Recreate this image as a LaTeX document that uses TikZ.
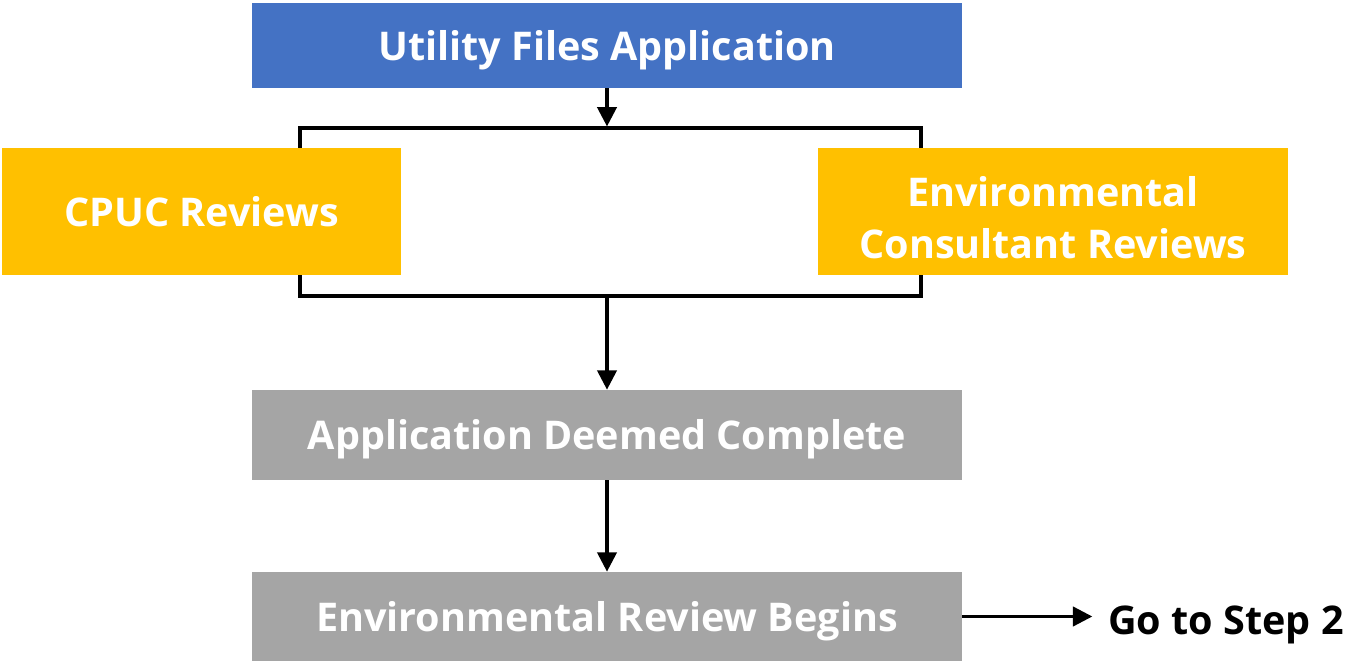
\documentclass[tikz,border=0pt]{standalone}
\usepackage{fontspec}
\setmainfont{Open Sans}
\usetikzlibrary{arrows.meta}
\definecolor{stepblue}{HTML}{4472C4}
\definecolor{reviewgold}{HTML}{FFC000}
\definecolor{stagegray}{HTML}{A5A5A5}
\tikzset{
	box/.style={rectangle, inner sep=0pt, text=white, font=\fontsize{22.5}{29.5}\selectfont\bfseries, align=center},
	oneline/.style={text height=20pt, text depth=3pt},
	link/.style={line width=1.8pt, -{Triangle[length=11pt, width=11pt]}}
}
\begin{document}
\begin{tikzpicture}[x=0.02cm, y=-0.02cm]
		
		\useasboundingbox (0,0) rectangle (1359,661);
		\node[draw, line width=1.8pt, minimum width=12.42cm, minimum height=3.36cm] (rev) at (610.5,212) {};
		\node[box, oneline, fill=stepblue, minimum width=14.2cm, minimum height=1.7cm] (files) at (607,45.5) {Utility Files Application};
		\node[box, oneline, fill=reviewgold, minimum width=7.98cm, minimum height=2.54cm] (cpuc) at (201.5,211.5) {CPUC Reviews};
		\node[box, fill=reviewgold, minimum width=9.4cm, minimum height=2.54cm] (env) at (1053,211.5) {\rule{0pt}{27pt}Environmental\\Consultant Reviews\rule[-3pt]{0pt}{3pt}};
		\node[box, oneline, fill=stagegray, minimum width=14.2cm, minimum height=1.8cm] (done) at (607,435) {Application Deemed Complete};
		\node[box, oneline, fill=stagegray, minimum width=14.2cm, minimum height=1.78cm] (begins) at (607,616.5) {Environmental Review Begins};
		\node[anchor=west, inner sep=0pt, font=\fontsize{22.5}{27}\selectfont\bfseries] (step) at (1108,625) {Go to Step 2};
		\draw[link] (files.south) -- (files.south |- rev.north);
		\draw[link] (done.north |- rev.south) -- (done.north);
		\draw[link] (done.south) -- (begins.north);
		\draw[link] (begins.east) -- ++(130,0);

	\end{tikzpicture}
\end{document}
